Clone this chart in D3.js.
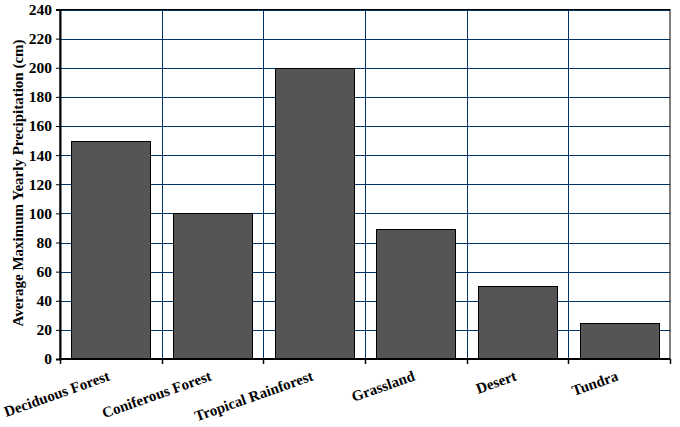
<!DOCTYPE html>
<html><head><meta charset="utf-8">
<script src="https://cdn.jsdelivr.net/npm/d3@7"></script>
<style>body{margin:0;background:#fff} svg text{font-family:"Liberation Serif","Times New Roman",Times,serif;font-weight:bold;fill:#000}</style>
</head><body>
<svg id="c" width="680" height="427"></svg>
<script>
const categories = ["Deciduous Forest","Coniferous Forest","Tropical Rainforest","Grassland","Desert","Tundra"];
const values = [150,100,200,89,50,25];
const yTicks = [0,20,40,60,80,100,120,140,160,180,200,220,240];
const yTitle = "Average Maximum Yearly Precipitation (cm)";

const svg = d3.select("#c");
const m = {l:60, r:10, t:9.5, b:68};
const W = 680, H = 427;
const x = d3.scaleBand().domain(categories).range([m.l, W-m.r]).paddingInner(0.22).paddingOuter(0.11);
const xb = d3.scaleBand().domain(categories).range([m.l, W-m.r]);
const y = d3.scaleLinear().domain([0,240]).range([H-m.b, m.t]);
const grid = "#003366";

svg.append("g").selectAll("line").data(yTicks.slice(1)).join("line")
  .attr("x1", m.l).attr("x2", W-m.r).attr("y1", d=>Math.round(y(d))+0.5).attr("y2", d=>Math.round(y(d))+0.5)
  .attr("stroke", grid).attr("stroke-width",1);
svg.append("g").selectAll("line").data(categories.slice(1)).join("line")
  .attr("x1", d=>Math.round(xb(d))+0.5).attr("x2", d=>Math.round(xb(d))+0.5).attr("y1", m.t).attr("y2", H-m.b)
  .attr("stroke", grid).attr("stroke-width",1);
svg.append("rect").attr("x", m.l).attr("y", m.t).attr("width", W-m.r-m.l).attr("height", H-m.b-m.t)
  .attr("fill","none").attr("stroke","#000").attr("stroke-width",1);

svg.append("g").selectAll("rect").data(values).join("rect")
  .attr("x", (d,i)=>Math.round(x(categories[i]))+0.5)
  .attr("width", Math.round(x.bandwidth()))
  .attr("y", d=>Math.round(y(d))+0.5)
  .attr("height", d=>Math.round(y(0))-Math.round(y(d)))
  .attr("fill","#555555").attr("stroke","#000").attr("stroke-width",1);

const ya = svg.append("g").attr("transform",`translate(${m.l},0)`)
  .call(d3.axisLeft(y).tickValues(yTicks).tickSize(4).tickPadding(4));
ya.attr("font-family",null).attr("font-size",null);
ya.select(".domain").attr("stroke","#000").attr("stroke-width",2);
ya.selectAll("text").style("font-size","15.5px");

svg.append("line").attr("x1", m.l-1).attr("x2", W-m.r).attr("y1", y(0)).attr("y2", y(0))
  .attr("stroke","#000").attr("stroke-width",2);
const bounds = categories.map(c=>xb(c)).concat([W-m.r]);
svg.append("g").selectAll("line").data(bounds).join("line")
  .attr("x1", d=>Math.round(d)+0.5).attr("x2", d=>Math.round(d)+0.5).attr("y1", y(0)).attr("y2", y(0)+5)
  .attr("stroke","#000").attr("stroke-width",1.5);

svg.append("g").selectAll("text").data(categories).join("text")
  .attr("transform", d=>`translate(${xb(d)+xb.bandwidth()/2},${y(0)+21}) rotate(-19.5)`)
  .attr("text-anchor","end")
  .style("font-size","15px")
  .text(d=>d);

svg.append("text").attr("transform",`translate(23,183) rotate(-90)`)
  .attr("text-anchor","middle").style("font-size","15px")
  .text(yTitle);
</script>
</body></html>
